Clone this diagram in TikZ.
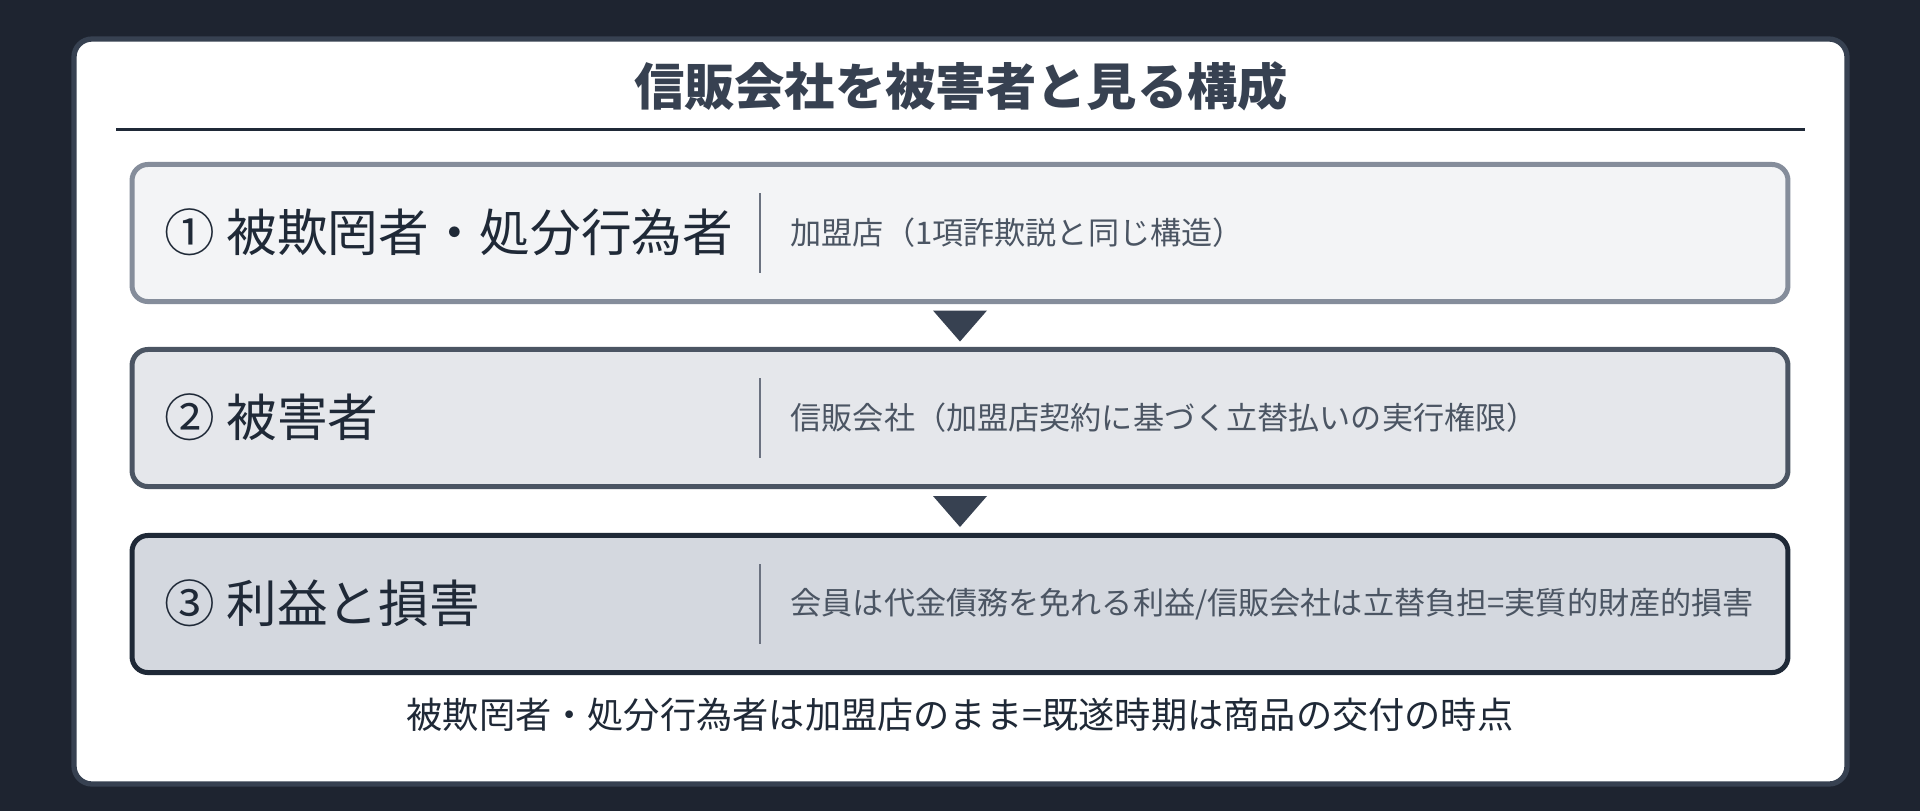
\documentclass[tikz,border=0pt]{standalone}
\usepackage{fontspec}
\setmainfont{Noto Sans CJK JP}
\usetikzlibrary{calc}
\definecolor{bgdark}{HTML}{1E2430}
\definecolor{cardline}{HTML}{374151}
\definecolor{ink}{HTML}{1F2937}
\definecolor{notegray}{HTML}{4B5563}
\definecolor{sepgray}{HTML}{6B7280}
\definecolor{fillA}{HTML}{F3F4F6}
\definecolor{lineA}{HTML}{858D9B}
\definecolor{fillB}{HTML}{E5E7EB}
\definecolor{lineB}{HTML}{4B5563}
\definecolor{fillC}{HTML}{D4D8DF}
\definecolor{lineC}{HTML}{1F2937}
\begin{document}
\begin{tikzpicture}[x=0.01cm, y=-0.01cm,
  stage/.style={draw, rounded corners=0.16cm, line width=1.42pt, minimum width=16.55cm, minimum height=1.37cm},
  lbl/.style={anchor=west, text=ink, inner sep=0pt, font=\fontsize{14.4pt}{17pt}\selectfont},
  note/.style={anchor=west, text=notegray, inner sep=0pt, font=\fontsize{8.85pt}{10pt}\selectfont},
  sep/.style={draw=sepgray, line width=0.8pt},
  tri/.style={fill=cardline}]
        \fill[bgdark] (0,0) rectangle (1920,811);
        \draw[fill=white, draw=cardline, line width=1.5pt, rounded corners=0.18cm] (74,39) rectangle (1847,784);
        \node[text=cardline, font=\fontsize{14.3pt}{17pt}\selectfont\bfseries] (title) at (961,86) {信販会社を被害者と見る構成};
        \draw[ink, line width=0.85pt] (116,129) -- (1805,129);
        \node[stage, fill=fillA, draw=lineA] (b1) at (960,233) {};
        \node[stage, fill=fillB, draw=lineB] (b2) at (960,418) {};
        \node[stage, fill=fillC, draw=lineC] (b3) at (960,604) {};
        \node[lbl] (l1) at (164,232) {① 被欺罔者・処分行為者};
        \node[lbl] (l2) at (164,417) {② 被害者};
        \node[lbl] (l3) at (164,603) {③ 利益と損害};
        \draw[sep] (760,193) -- (760,273);
        \draw[sep] (760,378) -- (760,458);
        \draw[sep] (760,564) -- (760,644);
        \node[note] (n1) at (790,233) {加盟店（1項詐欺説と同じ構造）};
        \node[note] (n2) at (790,418) {信販会社（加盟店契約に基づく立替払いの実行権限）};
        \node[note] (n3) at (790,604) {会員は代金債務を免れる利益/信販会社は立替負担=実質的財産的損害};
        \coordinate (m1) at ($(b1.south)!0.5!(b2.north)$);
        \coordinate (m2) at ($(b2.south)!0.5!(b3.north)$);
        \fill[tri] ($(m1)+(-27,-15)$) -- ($(m1)+(27,-15)$) -- ($(m1)+(0,16)$) -- cycle;
        \fill[tri] ($(m2)+(-27,-15)$) -- ($(m2)+(27,-15)$) -- ($(m2)+(0,16)$) -- cycle;
        \node[text=ink, font=\fontsize{10.3pt}{12pt}\selectfont] (foot) at (960,715) {被欺罔者・処分行為者は加盟店のまま=既遂時期は商品の交付の時点};
\end{tikzpicture}
\end{document}
